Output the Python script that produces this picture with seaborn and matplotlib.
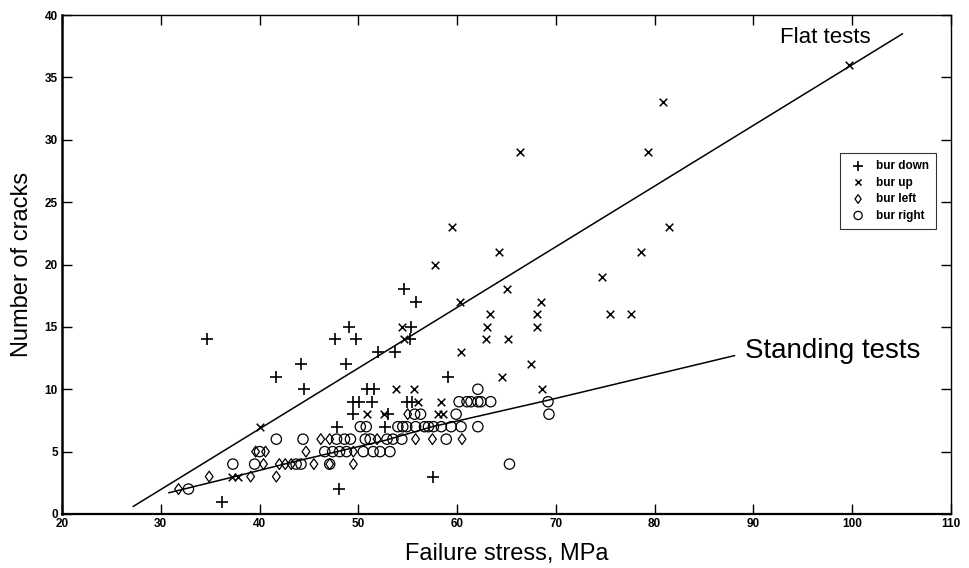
import matplotlib
matplotlib.use("Agg")
import matplotlib.pyplot as plt
from matplotlib.path import Path
import seaborn as sns
import pandas as pd

# Failure stress (MPa) and crack count for each specimen orientation
down_stress = [34.7, 41.7, 44.2, 44.5, 47.6, 49.1, 49.8, 48.8, 52.0, 53.7, 54.6, 55.8,
               55.3, 55.2, 59.1, 50.9, 51.6, 49.5, 50.1, 51.4, 54.9, 55.4, 49.5, 53.0,
               47.8, 52.7, 57.6, 48.0, 36.2]
down_cracks = [14, 11, 12, 10, 14, 15, 14, 12, 13, 13, 18, 17,
               15, 14, 11, 10, 10, 9, 9, 9, 9, 9, 8, 8,
               7, 7, 3, 2, 1]

up_stress = [40.0, 37.2, 37.8, 54.4, 54.6, 57.8, 59.5, 60.3, 60.4, 63.0, 62.9, 63.3,
             64.2, 65.1, 65.2, 64.5, 66.4, 67.5, 68.1, 68.1, 68.5, 68.6, 74.7, 75.5,
             77.6, 78.6, 79.3, 80.8, 81.5, 99.7, 53.8, 55.6, 56.0, 58.4, 50.9, 52.6,
             58.1, 58.6]
up_cracks = [7, 3, 3, 15, 14, 20, 23, 17, 13, 15, 14, 16,
             21, 18, 14, 11, 29, 12, 16, 15, 17, 10, 19, 16,
             16, 21, 29, 33, 23, 36, 10, 10, 9, 9, 8, 8,
             8, 8]

left_stress = [31.8, 34.9, 39.1, 41.7, 39.6, 40.6, 40.4, 42.0, 42.6, 43.2, 45.5, 47.1,
               49.5, 44.7, 49.5, 46.2, 47.1, 51.9, 55.8, 57.5, 60.5, 55.0]
left_cracks = [2, 3, 3, 3, 5, 5, 4, 4, 4, 4, 4, 4,
               4, 5, 5, 6, 6, 6, 6, 6, 6, 8]

right_stress = [32.8, 37.3, 39.5, 43.7, 44.2, 47.1, 40.0, 46.6, 47.4, 48.1, 48.8, 50.5,
                51.5, 52.2, 53.2, 41.7, 44.4, 47.8, 48.6, 49.2, 50.7, 51.2, 52.9, 53.5,
                54.4, 58.9, 50.2, 50.8, 54.0, 54.5, 54.9, 55.8, 56.7, 57.1, 57.6, 58.4,
                59.4, 60.4, 62.1, 55.7, 56.3, 59.9, 69.3, 60.2, 61.0, 61.4, 62.1, 62.4,
                63.4, 69.2, 62.1, 65.3]
right_cracks = [2, 4, 4, 4, 4, 4, 5, 5, 5, 5, 5, 5,
                5, 5, 5, 6, 6, 6, 6, 6, 6, 6, 6, 6,
                6, 6, 7, 7, 7, 7, 7, 7, 7, 7, 7, 7,
                7, 7, 7, 8, 8, 8, 8, 9, 9, 9, 9, 9,
                9, 9, 10, 4]

# Trend lines for the two test set-ups
flat_x = [27.2, 105.1]
flat_y = [0.6, 38.5]
standing_x = [30.8, 37.5, 43.0, 52.7, 57.5, 69.1, 88.1]
standing_y = [1.7, 3.0, 4.1, 5.9, 7.0, 9.1, 12.7]

x_ticks = [20, 30, 40, 50, 60, 70, 80, 90, 100, 110]
y_ticks = [0, 5, 10, 15, 20, 25, 30, 35, 40]

sns.set_style("ticks")
plt.rcParams["font.family"] = ["Liberation Sans", "DejaVu Sans"]
plt.rcParams["text.color"] = "black"
plt.rcParams["axes.labelcolor"] = "black"
plt.rcParams["xtick.color"] = "black"
plt.rcParams["ytick.color"] = "black"

# open diamond, a little taller than wide
diamond = Path([(0, 1), (0.72, 0), (0, -1), (-0.72, 0), (0, 1)],
               [Path.MOVETO, Path.LINETO, Path.LINETO, Path.LINETO, Path.CLOSEPOLY])

fig = plt.figure(figsize=(9.7, 5.68), dpi=100)
ax = fig.add_axes([62 / 970, 1 - 514 / 568, 889 / 970, 499 / 568])

series = [
    ("bur down", down_stress, down_cracks, "+", 70, 1.2),
    ("bur up", up_stress, up_cracks, "x", 30, 1.1),
    ("bur left", left_stress, left_cracks, diamond, 60, 0.9),
    ("bur right", right_stress, right_cracks, "o", 55, 0.9),
]
for name, xs, ys, mk, size, lw in series:
    df = pd.DataFrame({"stress": xs, "cracks": ys})
    if mk in ("+", "x"):
        sns.scatterplot(data=df, x="stress", y="cracks", marker=mk, s=size,
                        color="black", linewidth=lw, label=name, ax=ax, zorder=3)
    else:
        sns.scatterplot(data=df, x="stress", y="cracks", marker=mk, s=size,
                        facecolor="none", edgecolor="black", linewidth=lw,
                        label=name, ax=ax, zorder=3)

lines = pd.DataFrame({"x": flat_x, "y": flat_y})
sns.lineplot(data=lines, x="x", y="y", color="black", linewidth=1.1, ax=ax,
             legend=False, sort=False)
lines2 = pd.DataFrame({"x": standing_x, "y": standing_y})
sns.lineplot(data=lines2, x="x", y="y", color="black", linewidth=1.1, ax=ax,
             legend=False, sort=False)

ax.text(92.7, 38.2, "Flat tests", fontsize=16, ha="left", va="center")
ax.text(89.1, 13.1, "Standing tests", fontsize=20, ha="left", va="center")

ax.set_xlim(20, 110)
ax.set_ylim(0, 40)
ax.set_xticks(x_ticks)
ax.set_yticks(y_ticks)
ax.tick_params(direction="in", length=7, width=1, labelsize=8.5,
               top=True, right=True, pad=3)
for lab in ax.get_xticklabels() + ax.get_yticklabels():
    lab.set_fontweight("bold")
for side in ["left", "bottom", "top", "right"]:
    ax.spines[side].set_visible(True)
    ax.spines[side].set_color("black")
ax.spines["left"].set_linewidth(1.8)
ax.spines["bottom"].set_linewidth(1.6)
ax.spines["top"].set_linewidth(1.0)
ax.spines["right"].set_linewidth(1.0)

ax.set_xlabel("Failure stress, MPa", fontsize=17, labelpad=9)
ax.set_ylabel("Number of cracks", fontsize=17, labelpad=8)

leg = ax.legend(loc="upper right", bbox_to_anchor=(0.983, 0.7234), fontsize=8.5,
                frameon=True, fancybox=False, edgecolor="black",
                handletextpad=0.6, borderpad=0.6, labelspacing=0.38,
                handlelength=1.8, markerscale=0.8, borderaxespad=0)
leg.get_frame().set_linewidth(0.8)
for t in leg.get_texts():
    t.set_fontweight("bold")

fig.savefig("out.png", dpi=100)
